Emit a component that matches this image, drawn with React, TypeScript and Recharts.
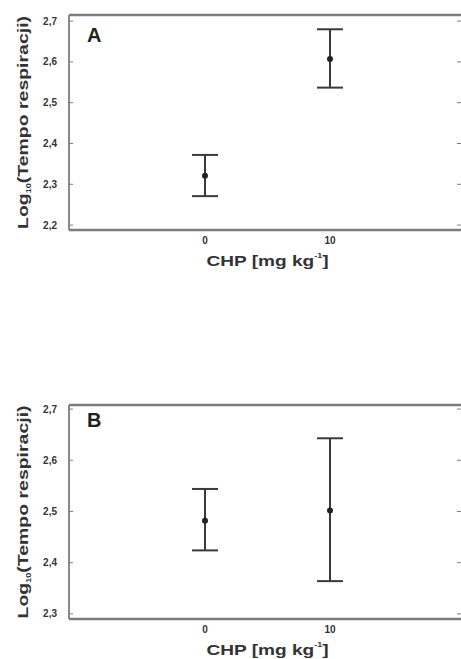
import React from 'react';
import { ScatterChart, Scatter, XAxis, YAxis, ErrorBar, ReferenceLine } from 'recharts';

const doses = [0, 10];
const doseTicks = [0, 10];

const meanA = [2.321, 2.607];
const lowerA = [2.271, 2.537];
const upperA = [2.372, 2.68];
const yTicksA = [2.2, 2.3, 2.4, 2.5, 2.6, 2.7];

const meanB = [2.482, 2.502];
const lowerB = [2.424, 2.364];
const upperB = [2.544, 2.643];
const yTicksB = [2.3, 2.4, 2.5, 2.6, 2.7];

const FONT = '"Liberation Sans", Arial, sans-serif';
const TXT = '#333';
const FRAME = '#7d7d7d';

const build = (mean: number[], lower: number[], upper: number[]) =>
  doses.map((d, i) => ({ dose: d, mean: mean[i], err: [mean[i] - lower[i], upper[i] - mean[i]] }));

const dataA = build(meanA, lowerA, upperA);
const dataB = build(meanB, lowerB, upperB);

const fmt = (v: number) => v.toFixed(1).replace('.', ',');

const Dot = (p: any) => <circle cx={p.cx} cy={p.cy} r={3} fill="#222" />;

const Hidden = () => <g />;

const XTitle = (props: any) => {
  const vb = props.viewBox || {};
  const cx = vb.x + vb.width / 2 + 2;
  const y = vb.y + 36;
  return (
    <g>
      <text x={cx} y={y} textAnchor="middle" fontFamily={FONT} fontWeight="bold" fontSize={15} fill={TXT}
        textLength={122} lengthAdjust="spacingAndGlyphs">
        CHP [mg kg<tspan fontSize={7} dy={-8}>-1</tspan><tspan dy={8}>]</tspan>
      </text>
    </g>
  );
};

const YTitle = (props: any) => {
  const vb = props.viewBox || {};
  const cy = vb.y + vb.height / 2;
  const x = 28;
  return (
    <text x={x} y={cy} transform={`rotate(-90 ${x} ${cy})`} textAnchor="middle" fontFamily={FONT}
      fontWeight="bold" fontSize={15} fill={TXT} textLength={213} lengthAdjust="spacingAndGlyphs">
      Log<tspan fontSize={7} dy={3}>10</tspan><tspan dy={-3}>(Tempo respiracji)</tspan>
    </text>
  );
};

const panelLabel = (letter: string, dy: number) => (props: any) => {
  const vb = props.viewBox || {};
  return (
    <text x={vb.x + 18} y={vb.y + dy} fontFamily={FONT} fontWeight="bold" fontSize={20} fill="#222">
      {letter}
    </text>
  );
};

type PanelProps = {
  data: any[];
  yDomain: [number, number];
  yTicks: number[];
  height: number;
  bottom: number;
  letter: string;
  letterDy: number;
};

const Panel = ({ data, yDomain, yTicks, height, bottom, letter, letterDy }: PanelProps) => (
  <ScatterChart width={470} height={height} margin={{ top: 15, right: 7, bottom: bottom, left: 68 }}>
    <XAxis xAxisId="b" dataKey="dose" type="number" domain={[-10.88, 20.56]} ticks={doseTicks}
      allowDataOverflow height={1} tickSize={0} tickMargin={7} tickLine={false}
      axisLine={{ stroke: FRAME, strokeWidth: 2.4 }}
      tick={{ fontFamily: FONT, fontWeight: 'bold', fontSize: 10, fill: TXT }}
      tickFormatter={(v: number) => String(v)} label={<XTitle />} />
    <YAxis yAxisId="l" dataKey="mean" type="number" domain={yDomain} ticks={yTicks} allowDataOverflow
      width={1} tickSize={-4} tickMargin={16} tickLine={{ stroke: FRAME, strokeWidth: 1 }}
      axisLine={{ stroke: FRAME, strokeWidth: 1.8 }}
      tick={{ fontFamily: FONT, fontWeight: 'bold', fontSize: 10, fill: TXT }}
      tickFormatter={fmt} label={<YTitle />} />
    <YAxis yAxisId="r" orientation="right" dataKey="mean" type="number" domain={yDomain} ticks={yTicks}
      allowDataOverflow width={1} tickSize={-5} tick={<Hidden />} tickLine={{ stroke: FRAME, strokeWidth: 1 }}
      axisLine={{ stroke: FRAME, strokeWidth: 1.8 }} />
    <ReferenceLine yAxisId="l" xAxisId="b" y={yDomain[1]} stroke={FRAME} strokeWidth={2.4}
      ifOverflow="visible" label={panelLabel(letter, letterDy)} />
    <Scatter data={data} dataKey="mean" xAxisId="b" yAxisId="l" isAnimationActive={false} shape={<Dot />}>
      <ErrorBar dataKey="err" direction="y" width={13} strokeWidth={2} stroke="#3a3a3a" isAnimationActive={false} />
    </Scatter>
  </ScatterChart>
);

export default function App() {
  return (
    <div style={{ position: 'absolute', left: 0, top: 0, width: 461, height: 659, overflow: 'hidden', background: '#fff' }}>
      <div style={{ position: 'absolute', left: 0, top: 0 }}>
        <Panel data={dataA} yDomain={[2.188, 2.715]} yTicks={yTicksA} height={290} bottom={59}
          letter="A" letterDy={27} />
      </div>
      <div style={{ position: 'absolute', left: 0, top: 390 }}>
        <Panel data={dataB} yDomain={[2.29, 2.708]} yTicks={yTicksB} height={269} bottom={39}
          letter="B" letterDy={22} />
      </div>
    </div>
  );
}
